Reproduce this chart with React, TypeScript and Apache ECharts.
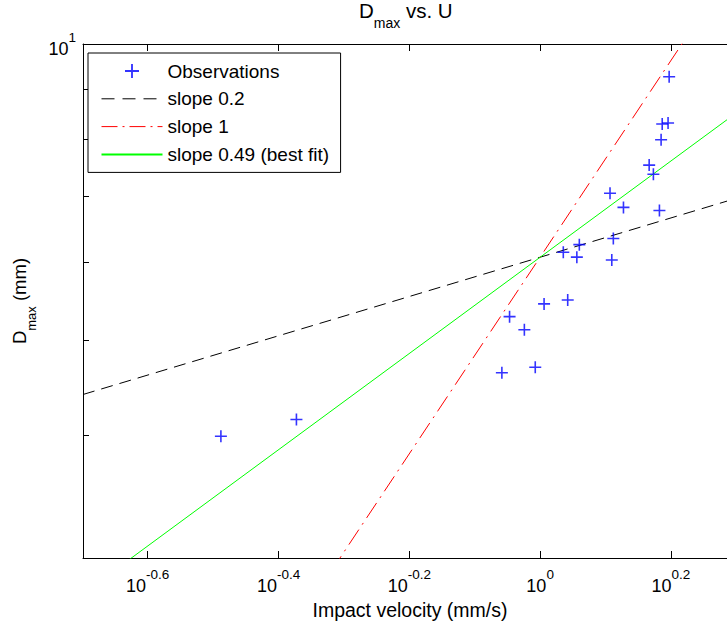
import React, { useEffect, useRef } from "react";
import * as echarts from "echarts";

const FONT = "'Liberation Sans', Arial, Helvetica, sans-serif";

// Observations (impact velocity U in mm/s, maximum diameter D in mm)
const U_OBS = [0.325, 0.424, 0.874, 0.983, 0.898, 0.946, 1.014, 1.102, 1.085, 1.148, 1.138, 1.287, 1.294, 1.279, 1.341, 1.522, 1.468, 1.49, 1.531, 1.537, 1.569, 1.575];
const D_OBS = [3.99, 4.15, 4.63, 4.69, 5.28, 5.12, 5.44, 5.49, 6.14, 6.25, 6.07, 6.03, 6.34, 7.05, 6.82, 6.77, 7.53, 7.37, 7.99, 8.29, 8.31, 9.26];

// Reference lines: end points
const LINE_U = [0.2, 2];
const SLOPE02_D = [4.4, 6.97];
const SLOPE1_D = [1.214, 12.14];
const FIT_D = [2.76, 8.52];

// Axis ranges and ticks (exponents of 10)
const X_MIN = 0.2;
const X_MAX = 2;
const Y_MIN = 3;
const Y_MAX = 10;
const X_TICK_EXP = [-0.6, -0.4, -0.2, 0, 0.2];
const Y_TICKS = [4, 5, 6, 7, 8, 9, 10];
const Y_LABEL_EXP = [1];

const SERIES_NAMES = ["Observations", "slope 0.2", "slope 1", "slope 0.49 (best fit)"];

const lg = (v: number) => Math.log10(v);
const fmtExp = (v: number) => {
  const n = Number(v.toFixed(1));
  return n === 0 ? "0" : String(n);
};

const tickRich = {
  b: { fontSize: 18, lineHeight: 28, verticalAlign: "bottom", fontFamily: FONT, color: "#000" },
  s: { fontSize: 13.5, lineHeight: 13, verticalAlign: "top", fontFamily: FONT, color: "#000" },
};

const CROSS = "path://M5.2,0H6.8V5.2H12V6.8H6.8V12H5.2V6.8H0V5.2H5.2Z";
const DASH = [12, 7];
const DASH_DOT = [18, 6, 2, 6];

export default function App() {
  const ref = useRef<HTMLDivElement>(null);
  useEffect(() => {
    const chart = echarts.init(ref.current!, null, { renderer: "svg" });
    const axisLine = { show: true, onZero: false, lineStyle: { color: "#000", width: 1 } };
    const xTickVals = X_TICK_EXP.slice();
    const yTickVals = Y_TICKS.map(lg);
    const option: any = {
      animation: false,
      backgroundColor: "#fff",
      title: {
        text: "{d|D}{s|max}{d| vs. U}",
        left: 359,
        top: 0,
        padding: 0,
        textStyle: {
          fontFamily: FONT,
          fontWeight: "normal",
          rich: {
            d: { fontSize: 20.5, lineHeight: 24, verticalAlign: "top", fontFamily: FONT, color: "#000" },
            s: { fontSize: 14, verticalAlign: "top", padding: [16, 0, 0, 0], fontFamily: FONT, color: "#000" },
          },
        },
      },
      legend: {
        left: 88,
        top: 53,
        orient: "vertical",
        padding: [8, 11.5, 8, 12.5],
        itemWidth: 61,
        itemHeight: 14,
        itemGap: 7.8,
        backgroundColor: "#fff",
        borderColor: "#000",
        borderWidth: 1,
        selectedMode: false,
        data: [
          { name: SERIES_NAMES[0] },
          { name: SERIES_NAMES[1], itemStyle: { opacity: 0 }, lineStyle: { type: [13, 8], color: "#000", width: 1 } },
          { name: SERIES_NAMES[2], itemStyle: { opacity: 0 }, lineStyle: { type: [16, 5, 2, 5], color: "#ff0000", width: 1 } },
          { name: SERIES_NAMES[3], itemStyle: { opacity: 0 } },
        ],
        textStyle: { fontFamily: FONT, fontSize: 19, lineHeight: 20, color: "#000" },
      },
      grid: { left: 83, top: 44, width: 654, height: 514, show: false, outerBoundsMode: "none", containLabel: false },
      xAxis: [
        {
          type: "value",
          position: "bottom",
          min: lg(X_MIN),
          max: lg(X_MAX),
          axisLine,
          axisTick: { show: true, inside: true, length: 7, customValues: xTickVals, lineStyle: { color: "#000" } },
          axisLabel: {
            customValues: xTickVals,
            margin: 9,
            formatter: (v: number) => `{b|10}{s|${fmtExp(v)}}`,
            rich: tickRich,
          },
          splitLine: { show: false },
          name: "Impact velocity (mm/s)",
          nameLocation: "middle",
          nameGap: 40,
          nameTextStyle: { fontFamily: FONT, fontSize: 19.5, lineHeight: 20, color: "#000" },
        },
        {
          type: "value",
          position: "top",
          min: lg(X_MIN),
          max: lg(X_MAX),
          axisLine,
          axisTick: { show: true, inside: true, length: 7, customValues: xTickVals, lineStyle: { color: "#000" } },
          axisLabel: { show: false },
          splitLine: { show: false },
        },
      ],
      yAxis: [
        {
          type: "value",
          position: "left",
          min: lg(Y_MIN),
          max: lg(Y_MAX),
          axisLine,
          axisTick: { show: true, inside: true, length: 6, customValues: yTickVals, lineStyle: { color: "#000" } },
          axisLabel: {
            customValues: Y_LABEL_EXP,
            margin: 7,
            formatter: (v: number) => `{b|10}{s|${fmtExp(v)}}`,
            rich: tickRich,
          },
          splitLine: { show: false },
          name: "{d|D}{s|max}{d| (mm)}",
          nameLocation: "middle",
          nameRotate: 90,
          nameGap: 30,
          nameTextStyle: {
            fontFamily: FONT,
            rich: {
              d: { fontSize: 18.5, lineHeight: 22, verticalAlign: "top", fontFamily: FONT, color: "#000" },
              s: { fontSize: 13, verticalAlign: "top", padding: [15, 0, 0, 0], fontFamily: FONT, color: "#000" },
            },
          },
        },
        {
          type: "value",
          position: "right",
          min: lg(Y_MIN),
          max: lg(Y_MAX),
          axisLine,
          axisTick: { show: true, inside: true, length: 6, customValues: yTickVals, lineStyle: { color: "#000" } },
          axisLabel: { show: false },
          splitLine: { show: false },
        },
      ],
      series: [
        {
          name: SERIES_NAMES[0],
          type: "scatter",
          symbol: CROSS,
          symbolSize: 12,
          itemStyle: { color: "#0000ff" },
          data: U_OBS.map((u, i) => [lg(u), lg(D_OBS[i])]),
          z: 3,
        },
        {
          name: SERIES_NAMES[1],
          type: "line",
          symbol: "none",
          clip: true,
          lineStyle: { color: "#000", width: 1, type: DASH },
          itemStyle: { color: "#000" },
          data: LINE_U.map((u, i) => [lg(u), lg(SLOPE02_D[i])]),
        },
        {
          name: SERIES_NAMES[2],
          type: "line",
          symbol: "none",
          clip: true,
          lineStyle: { color: "#ff0000", width: 1, type: DASH_DOT },
          itemStyle: { color: "#ff0000" },
          data: LINE_U.map((u, i) => [lg(u), lg(SLOPE1_D[i])]),
        },
        {
          name: SERIES_NAMES[3],
          type: "line",
          symbol: "none",
          clip: true,
          lineStyle: { color: "#00ff00", width: 1, type: "solid" },
          itemStyle: { color: "#00ff00" },
          data: LINE_U.map((u, i) => [lg(u), lg(FIT_D[i])]),
        },
      ],
    };
    chart.setOption(option);
    return () => chart.dispose();
  }, []);
  return (
    <div
      ref={ref}
      style={{ position: "absolute", left: 0, top: 0, width: 727, height: 622, background: "#fff" }}
    />
  );
}
